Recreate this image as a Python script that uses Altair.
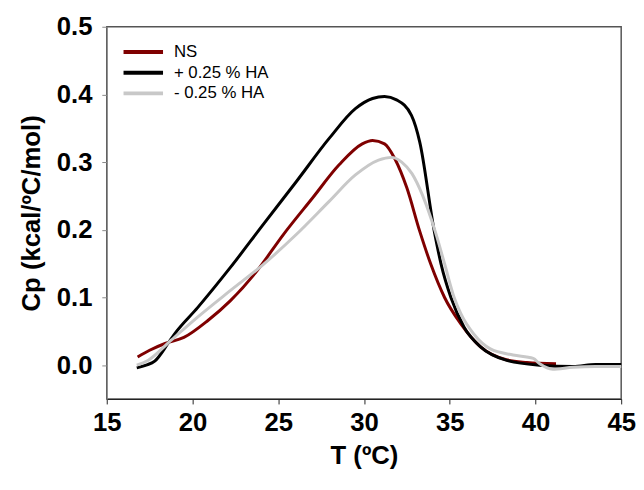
import altair as alt
import pandas as pd

# NS
ns_T = [16.8, 17.5, 18.4, 19.5, 20.9, 22.2, 23.75, 25.3, 27.0, 28.55, 29.9, 30.5,
        31.2, 31.8, 32.5, 33.25, 33.9, 34.7, 35.65, 36.8, 38.3, 39.5, 41.2]
ns_Cp = [0.012, 0.022, 0.032, 0.041, 0.066, 0.095, 0.139, 0.193, 0.247, 0.296, 0.327, 0.332,
         0.327, 0.305, 0.262, 0.198, 0.149, 0.100, 0.061, 0.027, 0.008, 0.004, 0.002]

# + 0.25 % HA
plus_T = [16.75, 17.3, 17.8, 18.57, 18.95, 20.3, 22.2, 24.13, 26.05, 27.97, 29.5, 30.5,
          31.2, 31.9, 32.77, 33.25, 34.1, 34.5, 35.07, 35.84, 36.8, 38.33, 40.25, 42.2, 43.5, 45.0]
plus_Cp = [-0.004, 0.0, 0.006, 0.032, 0.046, 0.085, 0.144, 0.208, 0.271, 0.335, 0.379, 0.394,
           0.397, 0.392, 0.369, 0.330, 0.198, 0.149, 0.100, 0.056, 0.027, 0.007, 0.0, -0.002, 0.001, 0.001]

# - 0.25 % HA
minus_T = [16.75, 17.4, 18.76, 20.3, 22.2, 24.14, 26.05, 27.97, 29.5, 30.85, 31.6, 32.2,
           32.8, 33.4, 34.15, 34.7, 35.26, 35.65, 36.4, 37.37, 38.7, 39.87, 40.25, 41.0, 42.2, 43.5, 45.0]
minus_Cp = [0.0, 0.007, 0.037, 0.071, 0.110, 0.149, 0.193, 0.242, 0.281, 0.303, 0.307, 0.300,
            0.283, 0.252, 0.198, 0.150, 0.100, 0.076, 0.046, 0.024, 0.015, 0.010, 0.002, -0.006, -0.003, -0.002, -0.002]

series_names = ["NS", "+ 0.25 % HA", "- 0.25 % HA"]
series_colors = ["#7f0000", "#000000", "#c8c8c8"]
x_ticks = [15, 20, 25, 30, 35, 40, 45]
y_ticks = [0.0, 0.1, 0.2, 0.3, 0.4, 0.5]

rows = []
for name, order, Ts, Cs in [(series_names[0], 0, ns_T, ns_Cp),
                            (series_names[1], 1, plus_T, plus_Cp),
                            (series_names[2], 2, minus_T, minus_Cp)]:
    for t, c in zip(Ts, Cs):
        rows.append({"series": name, "order": order, "T": t, "Cp": c})
df = pd.DataFrame(rows)

FONT = "Liberation Sans"

chart = alt.Chart(df).mark_line(strokeWidth=3, interpolate="monotone").encode(
    x=alt.X("T:Q", scale=alt.Scale(domain=[15, 45], nice=False, zero=False),
            axis=alt.Axis(values=x_ticks, format="d", title="T (ºC)", grid=False,
                          labelFont=FONT, labelFontSize=26, labelFontWeight="bold",
                          labelColor="black", labelFlush=False, labelPadding=6,
                          tickSize=5, tickColor="#222", domainColor="#222",
                          titleFont=FONT, titleFontSize=26, titleFontWeight="bold",
                          titleColor="black", titlePadding=7)),
    y=alt.Y("Cp:Q", scale=alt.Scale(domain=[-0.05, 0.5], nice=False, zero=False),
            axis=alt.Axis(values=y_ticks, format=".1f", title="Cp (kcal/ºC/mol)", grid=False,
                          labelFont=FONT, labelFontSize=26, labelFontWeight="bold",
                          labelColor="black", labelFlush=False, labelPadding=10,
                          tickSize=5, tickColor="#888", domainColor="#888",
                          titleFont=FONT, titleFontSize=26, titleFontWeight="bold",
                          titleColor="black", titlePadding=12)),
    color=alt.Color("series:N", scale=alt.Scale(domain=series_names, range=series_colors),
                    legend=alt.Legend(orient="none", legendX=15, legendY=15, title=None,
                                      symbolType="stroke", symbolSize=1600, symbolStrokeWidth=4,
                                      labelFont=FONT, labelFontSize=17, labelColor="black",
                                      labelOffset=9, clipHeight=21, rowPadding=0, padding=0)),
    order=alt.Order("order:Q"),
).properties(
    width=521, height=377,
    autosize=alt.AutoSizeParams(type="none"),
    padding={"left": 100, "top": 16, "right": 15, "bottom": 76},
).configure_view(stroke="#555", strokeWidth=1.5)

chart.save("out.html", embed_options={"renderer": "svg", "actions": False})
